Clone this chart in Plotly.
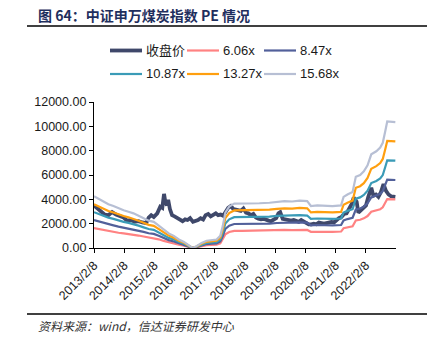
import plotly.graph_objects as go
import pandas as pd

# ---------------- data ----------------
series_names = ["收盘价", "6.06x", "8.47x", "10.87x", "13.27x", "15.68x"]

band_dates = [
    "2013-02-08", "2013-04-01", "2013-06-01", "2013-08-01", "2013-10-01", "2013-12-01",
    "2014-02-01", "2014-04-01", "2014-06-01", "2014-08-01", "2014-10-01", "2014-12-01",
    "2015-02-01", "2015-04-01", "2015-06-01", "2015-08-01", "2015-10-01", "2015-12-01",
    "2016-02-01", "2016-04-01", "2016-05-15", "2016-07-01", "2016-09-01", "2016-11-01",
    "2017-01-01", "2017-03-01", "2017-04-15", "2017-05-15", "2017-06-15", "2017-08-01",
    "2017-10-01", "2018-01-01", "2018-04-01", "2018-08-01", "2018-12-01", "2019-03-01",
    "2019-06-01", "2019-09-01", "2019-12-01", "2020-03-01", "2020-04-15", "2020-07-01",
    "2020-10-01", "2021-01-01", "2021-04-15", "2021-05-15", "2021-07-01", "2021-09-01",
    "2021-10-10", "2021-12-01", "2022-01-15", "2022-03-01", "2022-04-15", "2022-06-15",
    "2022-08-01", "2022-09-01", "2022-10-01", "2022-10-25", "2023-01-31",
]

pe_15_68 = [4250, 4050, 3800, 3600, 3450, 3250, 3100, 2980, 2850, 2650, 2450, 2250,
            2150, 1850, 1500, 1200, 1000, 700, 500, 200, 0, 150, 420, 600,
            650, 700, 1000, 1800, 2900, 3400, 3650, 3650, 3700, 3680, 3720, 3800,
            3850, 3820, 3900, 3850, 3450, 3500, 3450, 3450, 3500, 4200, 4400, 4600,
            5850, 6000, 6300, 6800, 7700, 7950, 8250, 8650, 9600, 10400, 10350]
pe_13_27 = [3597, 3428, 3216, 3047, 2920, 2750, 2624, 2522, 2412, 2243, 2073, 1904,
            1820, 1566, 1269, 1016, 846, 592, 423, 169, 0, 127, 355, 508,
            550, 592, 846, 1523, 2454, 2877, 3089, 3089, 3131, 3114, 3148, 3216,
            3258, 3233, 3301, 3258, 2920, 2962, 2920, 2920, 2962, 3554, 3724, 3893,
            4951, 5078, 5332, 5755, 6517, 6728, 6982, 7320, 8124, 8802, 8759]
pe_10_87 = [2946, 2807, 2634, 2496, 2392, 2253, 2149, 2066, 1976, 1837, 1698, 1560,
            1490, 1282, 1040, 832, 693, 485, 347, 139, 0, 104, 291, 416,
            451, 485, 693, 1248, 2010, 2357, 2530, 2530, 2565, 2551, 2579, 2634,
            2669, 2648, 2703, 2669, 2392, 2426, 2392, 2392, 2426, 2911, 3050, 3189,
            4055, 4159, 4367, 4714, 5338, 5511, 5719, 5996, 6655, 7209, 7175]
pe_8_47 = [2296, 2188, 2053, 1945, 1864, 1756, 1675, 1610, 1540, 1432, 1323, 1215,
           1161, 999, 810, 648, 540, 378, 270, 108, 0, 81, 227, 324,
           351, 378, 540, 972, 1567, 1837, 1972, 1972, 1999, 1988, 2010, 2053,
           2080, 2064, 2107, 2080, 1864, 1891, 1864, 1864, 1891, 2269, 2377, 2485,
           3160, 3241, 3403, 3673, 4160, 4295, 4457, 4673, 5186, 5618, 5591]
pe_6_06 = [1643, 1565, 1469, 1391, 1333, 1256, 1198, 1152, 1102, 1024, 947, 870,
           831, 715, 580, 464, 387, 271, 193, 77, 0, 58, 162, 232,
           251, 271, 387, 696, 1121, 1314, 1411, 1411, 1430, 1422, 1438, 1469,
           1488, 1476, 1507, 1488, 1333, 1353, 1333, 1333, 1353, 1623, 1701, 1778,
           2261, 2319, 2435, 2628, 2976, 3073, 3189, 3343, 3710, 4020, 4000]

close_dates = [
    "2013-02-08", "2013-03-15", "2013-05-01", "2013-06-15", "2013-08-01", "2013-09-15",
    "2013-11-01", "2013-12-15", "2014-02-01", "2014-03-15", "2014-05-01", "2014-06-15",
    "2014-08-01", "2014-09-15", "2014-11-01", "2014-12-01", "2015-01-01", "2015-02-01",
    "2015-03-15", "2015-04-20", "2015-05-15", "2015-06-05", "2015-06-20", "2015-07-10",
    "2015-07-25", "2015-08-15", "2015-09-10", "2015-10-10", "2015-11-10", "2015-12-10",
    "2016-01-15", "2016-02-15", "2016-03-15", "2016-04-15", "2016-05-20", "2016-06-20",
    "2016-07-20", "2016-08-20", "2016-09-20", "2016-10-20", "2016-11-20", "2016-12-20",
    "2017-01-20", "2017-02-20", "2017-03-20", "2017-04-20", "2017-05-20", "2017-06-20",
    "2017-07-20", "2017-08-20", "2017-09-20", "2017-10-20", "2017-11-20", "2017-12-20",
    "2018-01-20", "2018-02-20", "2018-03-20", "2018-04-20", "2018-05-20", "2018-06-20",
    "2018-07-20", "2018-08-20", "2018-09-20", "2018-10-20", "2018-11-20", "2018-12-20",
    "2019-01-20", "2019-02-20", "2019-03-20", "2019-04-10", "2019-05-10", "2019-06-20",
    "2019-07-20", "2019-08-20", "2019-09-20", "2019-10-20", "2019-11-20", "2019-12-20",
    "2020-01-20", "2020-02-20", "2020-03-20", "2020-04-20", "2020-05-20", "2020-06-20",
    "2020-07-20", "2020-08-20", "2020-09-20", "2020-10-20", "2020-11-20", "2020-12-20",
    "2021-01-20", "2021-02-20", "2021-03-20", "2021-04-20", "2021-05-20", "2021-06-20",
    "2021-07-20", "2021-08-20", "2021-09-15", "2021-10-20", "2021-11-10", "2021-12-10",
    "2022-01-10", "2022-02-10", "2022-03-10", "2022-04-15", "2022-05-10", "2022-06-10",
    "2022-07-10", "2022-08-10", "2022-09-10", "2022-10-10", "2022-11-10", "2022-12-10",
    "2023-01-31",
]
close_values = [
    3500, 3300, 3100, 2750, 2700, 2950,
    2750, 2600, 2500, 2250, 2300, 2150,
    2200, 2100, 2050, 2500, 2700, 2550,
    2850, 3400, 3300, 4450, 3800, 3500,
    3950, 3200, 2700, 2600, 2500, 2350,
    2200, 2350, 2300, 2450, 2150, 2200,
    2300, 2450, 2350, 2700, 2800, 2600,
    2700, 2850, 2700, 2750, 2650, 2950,
    3300, 3450, 3200, 3150, 3100, 3050,
    3250, 2900, 2850, 2700, 2800, 2500,
    2400, 2350, 2400, 2300, 2250, 2200,
    2300, 2450, 2850, 2950, 2400, 2350,
    2300, 2250, 2300, 2200, 2150, 2300,
    2200, 2050, 1950, 1950, 2000, 1950,
    2100, 2050, 2000, 2050, 2100, 2150,
    2100, 2300, 2450, 2550, 2800, 2850,
    3200, 3600, 4150, 3800, 2900, 3100,
    3200, 3500, 4200, 4950, 4300, 4400,
    4200, 4600, 5250, 4700, 4400, 4250,
    4200,
]

x_tick_dates = ["2013-02-08", "2014-02-08", "2015-02-08", "2016-02-08", "2017-02-08",
                "2018-02-08", "2019-02-08", "2020-02-08", "2021-02-08", "2022-02-08"]
x_tick_labels = ["2013/2/8", "2014/2/8", "2015/2/8", "2016/2/8", "2017/2/8",
                 "2018/2/8", "2019/2/8", "2020/2/8", "2021/2/8", "2022/2/8"]
y_tick_values = [0, 2000, 4000, 6000, 8000, 10000, 12000]

title_text = "图 64：中证申万煤炭指数 PE 情况"
source_text = "资料来源：wind，信达证券研发中心"

# ---------------- styles ----------------
colors = ["#3f486a", "#ff8282", "#52609a", "#3a9bb7", "#ff9f0f", "#b7bfd4"]
widths = [3.8, 2.2, 2.2, 2.2, 2.2, 2.2]

W, H = 447, 346
PL, PR, PT, PB = 94, 396, 102, 248


def fx(px):
    return (px - PL) / (PR - PL)


def fy(py):
    return (PB - py) / (PB - PT)


band_series = [pe_6_06, pe_8_47, pe_10_87, pe_13_27, pe_15_68]

fig = go.Figure()
fig.add_trace(go.Scatter(x=pd.to_datetime(close_dates), y=close_values, mode="lines",
                         name=series_names[0],
                         line=dict(color=colors[0], width=widths[0])))
for i, vals in enumerate(band_series, start=1):
    fig.add_trace(go.Scatter(x=pd.to_datetime(band_dates), y=vals, mode="lines",
                             name=series_names[i],
                             line=dict(color=colors[i], width=widths[i])))

tick_font = dict(family="Liberation Sans, Arial, sans-serif", size=12.5, color="#1a1a1a")

fig.update_layout(
    width=W, height=H,
    margin=dict(l=PL, r=W - PR, t=PT, b=H - PB, pad=0),
    paper_bgcolor="white", plot_bgcolor="white",
    showlegend=False,
    xaxis=dict(
        type="date",
        range=["2013-02-08", "2023-02-08"],
        tickvals=pd.to_datetime(x_tick_dates), ticktext=x_tick_labels,
        tickangle=-45, ticks="outside", ticklen=4, tickwidth=1, tickcolor="black",
        showline=True, linecolor="black", linewidth=1.2,
        showgrid=False, zeroline=False, tickfont=tick_font,
    ),
    yaxis=dict(
        range=[0, 12000], tickvals=y_tick_values, tickformat=".2f",
        ticks="outside", ticklen=4, tickwidth=1, tickcolor="black",
        showline=True, linecolor="black", linewidth=1.2,
        showgrid=False, zeroline=False, tickfont=tick_font,
    ),
)

shapes = []
annotations = []

# title and rules
annotations.append(dict(xref="paper", yref="paper", x=fx(36), y=fy(15), xanchor="left",
                        yanchor="middle", showarrow=False, text="<b>" + title_text + "</b>",
                        font=dict(family="Noto Sans CJK SC, sans-serif", size=14, color="#1f2f5e")))
for py in (26, 314):
    shapes.append(dict(type="line", xref="paper", yref="paper", x0=fx(27), x1=fx(427),
                       y0=fy(py), y1=fy(py), line=dict(color="black", width=1.6)))
annotations.append(dict(xref="paper", yref="paper", x=fx(36), y=fy(325), xanchor="left",
                        yanchor="middle", showarrow=False, text=source_text,
                        font=dict(family="Noto Sans CJK SC, sans-serif", size=12,
                                  color="#333333", style="italic")))

# legend
col_px = [110, 187, 264]
row_py = [50.5, 74]
for i, name in enumerate(series_names):
    r, c = divmod(i, 3)
    x0 = col_px[c]
    y = row_py[r]
    shapes.append(dict(type="line", xref="paper", yref="paper", x0=fx(x0), x1=fx(x0 + 32),
                       y0=fy(y), y1=fy(y),
                       line=dict(color=colors[i], width=widths[i])))
    annotations.append(dict(xref="paper", yref="paper", x=fx(x0 + 34), y=fy(y), xanchor="left",
                            yanchor="middle", showarrow=False, text=name,
                            font=dict(family="Liberation Sans, Noto Sans CJK SC, sans-serif",
                                      size=13, color="#1a1a1a")))

fig.update_layout(shapes=shapes, annotations=annotations)
fig.write_html("out.html")
